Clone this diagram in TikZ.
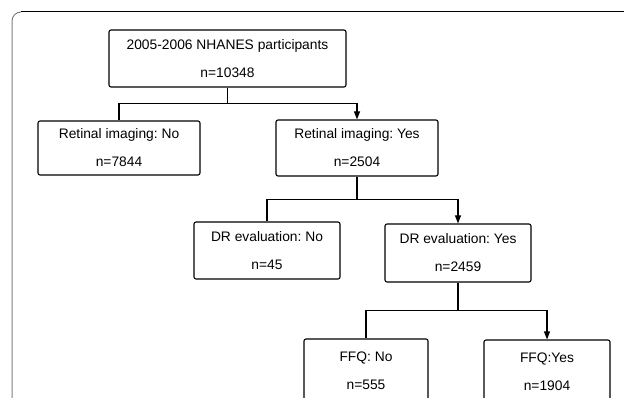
\documentclass[tikz,border=0pt]{standalone}
\usepackage{fontspec}
\setmainfont{Liberation Sans}
\frenchspacing
\usetikzlibrary{arrows.meta, positioning, calc}
\definecolor{inkline}{HTML}{000000}
\definecolor{inkframe}{HTML}{7F7F7F}
\definecolor{inktext}{HTML}{000000}
\newcommand{\flowbox}[5]{%
  \node[draw=inkline, line width=1.1pt, rounded corners=2pt, fill=white,
        minimum width=#3pt, minimum height=#4pt, inner sep=0pt, align=center,
        text=inktext] (#1) at (#2) {#5};}

\begin{document}
\begin{tikzpicture}[x=1pt, y=-1pt, font=\fontsize{13.8}{28}\selectfont]
      \clip (0,0) rectangle (624,398);
      \useasboundingbox (0,0) rectangle (624,398);
      % outer frame
      \draw[inkframe, line width=1pt] (12,404) -- (12,21) arc[start angle=180, end angle=270, radius=9];
      \draw[inkline, line width=1pt] (21,12) -- (630,12);
      % boxes
      \flowbox{nhanes}{227.5,58.5}{237}{57}{2005-2006 NHANES participants\\ n=10348}
      \flowbox{retno}{119,148}{162}{54}{Retinal imaging: No\\ n=7844}
      \flowbox{retyes}{357,148}{162}{56}{Retinal imaging: Yes\\ n=2504}
      \flowbox{drno}{267,250.5}{146}{57}{DR evaluation: No\\ n=45}
      \flowbox{dryes}{458,253}{146}{58}{DR evaluation: Yes\\ n=2459}
      \flowbox{ffqno}{366,371}{124}{64}{FFQ: No\\ n=555}
      \flowbox{ffqyes}{547,372}{126}{64}{FFQ:Yes\\ n=1904}
      % connectors
      \draw[inkline, line width=1.1pt] (nhanes.south) -- ++(0,16) -| (retno.north);
      \draw[-{Triangle[length=8pt, width=6pt]}, inkline, line width=1.1pt] (nhanes.south) -- ++(0,16) -| (retyes.north);
      \draw[inkline, line width=1.1pt] (retyes.south) -- ++(0,23) -| (drno.north);
      \draw[-{Triangle[length=8pt, width=6pt]}, inkline, line width=1.1pt] (retyes.south) -- ++(0,23) -| (dryes.north);
      \draw[inkline, line width=1.1pt] (dryes.south) -- ++(0,28) -| (ffqno.north);
      \draw[-{Triangle[length=8pt, width=6pt]}, inkline, line width=1.1pt] (dryes.south) -- ++(0,28) -| (ffqyes.north);
    \end{tikzpicture}
\end{document}
